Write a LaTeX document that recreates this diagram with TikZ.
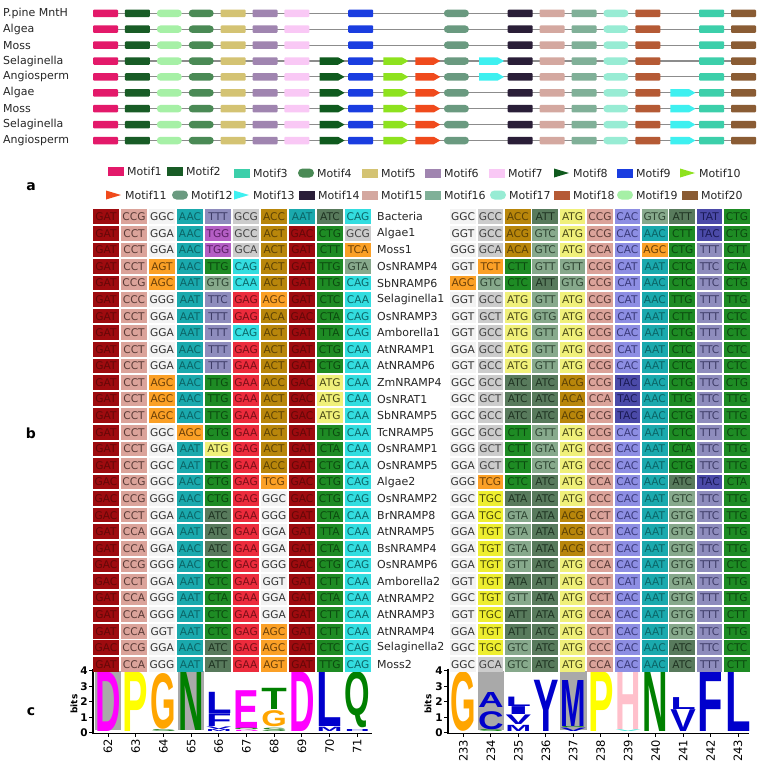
\documentclass[tikz,border=0pt]{standalone}
\usepackage{fontspec}
\usepackage{graphicx}
\setmainfont{DejaVu Sans}
\newfontfamily\logofont{Liberation Sans}
\usetikzlibrary{shapes.symbols}

% ---------- genetic code ----------
\newcommand\setaa[2]{\foreach \cc in {#2}{\expandafter\xdef\csname aa\cc\endcsname{#1}}}
\setaa{F}{TTT,TTC}
\setaa{L}{TTA,TTG,CTT,CTC,CTA,CTG}
\setaa{I}{ATT,ATC,ATA}
\setaa{M}{ATG}
\setaa{V}{GTT,GTC,GTA,GTG}
\setaa{S}{TCT,TCC,TCA,TCG,AGT,AGC}
\setaa{P}{CCT,CCC,CCA,CCG}
\setaa{T}{ACT,ACC,ACA,ACG}
\setaa{A}{GCT,GCC,GCA,GCG}
\setaa{Y}{TAT,TAC}
\setaa{H}{CAT,CAC}
\setaa{Q}{CAA,CAG}
\setaa{N}{AAT,AAC}
\setaa{K}{AAA,AAG}
\setaa{D}{GAT,GAC}
\setaa{E}{GAA,GAG}
\setaa{C}{TGT,TGC}
\setaa{W}{TGG}
\setaa{R}{CGT,CGC,CGA,CGG,AGA,AGG}
\setaa{G}{GGT,GGC,GGA,GGG}

% cell fills / text colours
\definecolor{fD}{HTML}{9E0B0F}\definecolor{tD}{HTML}{650808}
\definecolor{fP}{HTML}{DBA39A}\definecolor{tP}{HTML}{5A3A36}
\definecolor{fG}{HTML}{F3F3F3}\definecolor{tG}{HTML}{333333}
\definecolor{fN}{HTML}{1AA9AD}\definecolor{tN}{HTML}{0B6466}
\definecolor{fF}{HTML}{8E8CBD}\definecolor{tF}{HTML}{3D3B66}
\definecolor{fW}{HTML}{B45EC4}\definecolor{tW}{HTML}{5C1F66}
\definecolor{fA}{HTML}{CCCCCC}\definecolor{tA}{HTML}{444444}
\definecolor{fT}{HTML}{B8860B}\definecolor{tT}{HTML}{5C4205}
\definecolor{fI}{HTML}{587A5C}\definecolor{tI}{HTML}{1F3322}
\definecolor{fV}{HTML}{87A98C}\definecolor{tV}{HTML}{2F4533}
\definecolor{fQ}{HTML}{33DDE0}\definecolor{tQ}{HTML}{0C6668}
\definecolor{fS}{HTML}{FBA026}\definecolor{tS}{HTML}{6B4008}
\definecolor{fL}{HTML}{1E8B24}\definecolor{tL}{HTML}{0B4A0F}
\definecolor{fE}{HTML}{EC2B3C}\definecolor{tE}{HTML}{7A0F18}
\definecolor{fM}{HTML}{F0F07A}\definecolor{tM}{HTML}{4A4A18}
\definecolor{fC}{HTML}{EEEE30}\definecolor{tC}{HTML}{4A4A0A}
\definecolor{fH}{HTML}{8D8EE3}\definecolor{tH}{HTML}{3A3A7A}
\definecolor{fY}{HTML}{4B4AA8}\definecolor{tY}{HTML}{1A1A55}
\definecolor{fK}{HTML}{8888FF}\definecolor{tK}{HTML}{333366}
\definecolor{fR}{HTML}{8888FF}\definecolor{tR}{HTML}{333366}

% motif colours
\definecolor{mc1}{HTML}{E3196A}
\definecolor{mc2}{HTML}{185C26}
\definecolor{mc3}{HTML}{3CCFAA}
\definecolor{mc4}{HTML}{4A8A55}
\definecolor{mc5}{HTML}{D4C373}
\definecolor{mc6}{HTML}{A085B0}
\definecolor{mc7}{HTML}{F9C8F5}
\definecolor{mc8}{HTML}{0F5A1E}
\definecolor{mc9}{HTML}{1A3DE0}
\definecolor{mc10}{HTML}{8EE21E}
\definecolor{mc11}{HTML}{F04A1C}
\definecolor{mc12}{HTML}{6A9A80}
\definecolor{mc13}{HTML}{3EF0F0}
\definecolor{mc14}{HTML}{2A1E38}
\definecolor{mc15}{HTML}{D4A8A0}
\definecolor{mc16}{HTML}{80B098}
\definecolor{mc17}{HTML}{98ECD4}
\definecolor{mc18}{HTML}{B55A35}
\definecolor{mc19}{HTML}{A6F0A6}
\definecolor{mc20}{HTML}{8A5C34}

% logo colours
\definecolor{lgMag}{HTML}{FF00FF}
\definecolor{lgYel}{HTML}{FFFF00}
\definecolor{lgOra}{HTML}{FFA500}
\definecolor{lgGre}{HTML}{008000}
\definecolor{lgBlu}{HTML}{0000CC}
\definecolor{lgPin}{HTML}{FFC0CB}
\definecolor{lgCya}{HTML}{40E0D0}
\definecolor{lgBg}{HTML}{A9A9A9}

\tikzset{
  cell/.style={rectangle,inner sep=0,minimum width=25.5pt,minimum height=14.6pt,font=\fontsize{10.6}{12}\selectfont},
  seqname/.style={anchor=west,inner sep=0,font=\fontsize{11}{13}\selectfont,text=black!85},
  mbase/.style={inner sep=0,outer sep=0,minimum width=25pt,minimum height=7.5pt,draw=none},
  mrect/.style={mbase,rectangle,rounded corners=1pt},
  mpill/.style={mbase,rectangle,rounded corners=3.7pt},
  marrow/.style={mbase,signal,signal to=east,signal pointer angle=60},
  gline/.style={draw=black!45,line width=1.1pt},
  legrect/.style={rectangle,inner sep=0,minimum width=16pt,minimum height=9pt},
  legpill/.style={rectangle,inner sep=0,minimum width=16pt,minimum height=9pt,rounded corners=4.5pt},
  legtext/.style={anchor=west,inner sep=0,font=\fontsize{11}{13}\selectfont,text=black!85},
  panel/.style={font=\bfseries\fontsize{14}{16}\selectfont,inner sep=0},
  axisline/.style={line width=1.5pt,black},
  ticklab/.style={font=\bfseries\fontsize{10.5}{12}\selectfont,inner sep=0,anchor=east},
  collab/.style={font=\fontsize{11.5}{13}\selectfont,inner sep=0,anchor=east,rotate=90},
  bitslab/.style={font=\bfseries\fontsize{9}{10}\selectfont,inner sep=0,rotate=90},
  mot1/.style={mrect,fill=mc1}, mot2/.style={mrect,fill=mc2}, mot3/.style={mrect,fill=mc3},
  mot4/.style={mpill,fill=mc4}, mot5/.style={mrect,fill=mc5}, mot6/.style={mrect,fill=mc6},
  mot7/.style={mrect,fill=mc7}, mot8/.style={marrow,fill=mc8}, mot9/.style={mrect,fill=mc9},
  mot10/.style={marrow,fill=mc10}, mot11/.style={marrow,fill=mc11}, mot12/.style={mpill,fill=mc12},
  mot13/.style={marrow,fill=mc13}, mot14/.style={mrect,fill=mc14}, mot15/.style={mrect,fill=mc15},
  mot16/.style={mrect,fill=mc16}, mot17/.style={mpill,fill=mc17}, mot18/.style={mrect,fill=mc18},
  mot19/.style={mpill,fill=mc19}, mot20/.style={mrect,fill=mc20}
}

% top panel row
\newcommand\mrow[3]{%
  \pgfmathsetmacro\ym{13.3+15.9*#1}%
  \node[seqname] (T#1) at (3,\ym) {#2};
  \coordinate (ls#1) at (93,\ym);
  \coordinate (le#1) at (756,\ym);
  \draw[gline] (ls#1) -- (le#1);
  \foreach \s/\m in {#3}{\node[mot\m] (M#1-\s) at ({105.5+31.9*\s},\ym) {};}
}

% legend icons
\newcommand\legiconr[3]{\node[legrect,fill=mc#3] (icon#3) at ({#1+8},#2) {};}
\newcommand\legiconp[3]{\node[legpill,fill=mc#3] (icon#3) at ({#1+8},#2) {};}
\newcommand\legicont[3]{\fill[fill=mc#3] (#1,{#2-4.5}) -- ({#1+15},#2) -- (#1,{#2+4.5}) -- cycle;
  \coordinate (icon#3) at ({#1+7},#2);}

% alignment row
\newcommand\alrow[4]{%
  \pgfmathsetmacro\yc{216.7+16.58*#1}%
  \foreach \cod [count=\ci from 0] in {#2}{%
    \edef\myaa{\csname aa\cod\endcsname}%
    \node[cell,fill=f\myaa,text=t\myaa] (L#1-\ci) at ({106+28*\ci},\yc) {\cod};
  }
  \node[seqname] (N#1) at (377,\yc) {#3};
  \foreach \cod [count=\ci from 0] in {#4}{%
    \edef\myaa{\csname aa\cod\endcsname}%
    \node[cell,fill=f\myaa,text=t\myaa] (R#1-\ci) at ({463+27.4*\ci},\yc) {\cod};
  }
}

% logo letter (small gap between stacked letters)
\newcounter{lgc}
\newcommand\lgl[5]{%
  \stepcounter{lgc}%
  \pgfmathsetmacro\lgh{max(15.5*(#3-#2)-0.5,0.5)}%
  \pgfmathsetmacro\lgy{732.7-15.5*(#2)-0.25}%
  \node[inner sep=0,outer sep=0,anchor=south,text=#5] (lg\arabic{lgc}) at (#1,\lgy)
     {\resizebox*{25.5pt}{\lgh pt}{\logofont\bfseries #4}};%
}

\begin{document}
\begin{tikzpicture}[x=1pt,y=-1pt]
\fill[white] (0,0) rectangle (760,771);
\useasboundingbox (0,0) rectangle (760,771);

% ---------------- panel a : motifs ----------------
\mrow{0}{P.pine MntH}{0/1,1/2,2/19,3/4,4/5,5/6,6/7,8/9,11/12,13/14,14/15,15/16,16/17,17/18,19/3,20/20}
\mrow{1}{Algea}{0/1,1/2,2/19,3/4,4/5,5/6,6/7,8/9,11/12,13/14,14/15,15/16,16/17,17/18,19/3,20/20}
\mrow{2}{Moss}{0/1,1/2,2/19,3/4,4/5,5/6,6/7,8/9,11/12,13/14,14/15,15/16,16/17,17/18,19/3,20/20}
\mrow{3}{Selaginella}{0/1,1/2,2/19,3/4,4/5,5/6,6/7,7/8,8/9,9/10,10/11,11/12,12/13,13/14,14/15,15/16,16/17,17/18,19/3,20/20}
\mrow{4}{Angiosperm}{0/1,1/2,2/19,3/4,4/5,5/6,6/7,7/8,8/9,9/10,10/11,11/12,12/13,13/14,14/15,15/16,16/17,17/18,19/3,20/20}
\mrow{5}{Algae}{0/1,1/2,2/19,3/4,4/5,5/6,6/7,7/8,8/9,9/10,10/11,11/12,13/14,14/15,15/16,16/17,17/18,18/13,19/3,20/20}
\mrow{6}{Moss}{0/1,1/2,2/19,3/4,4/5,5/6,6/7,7/8,8/9,9/10,10/11,11/12,13/14,14/15,15/16,16/17,17/18,18/13,19/3,20/20}
\mrow{7}{Selaginella}{0/1,1/2,2/19,3/4,4/5,5/6,6/7,7/8,8/9,9/10,10/11,11/12,13/14,14/15,15/16,16/17,17/18,18/13,19/3,20/20}
\mrow{8}{Angiosperm}{0/1,1/2,2/19,3/4,4/5,5/6,6/7,7/8,8/9,9/10,10/11,11/12,13/14,14/15,15/16,16/17,17/18,18/13,19/3,20/20}

% legend
\foreach \m/\lx/\ly/\k in {1/108/171/r,2/167/171/r,3/234/173/r,4/298/173/p,5/362/173/r,6/425/173/r,7/489/173/r,8/554/173/t,9/617/173/r,10/680/173/t,
  11/106/195/t,12/172/195/p,13/234/195/t,14/299/195/r,15/362/195/r,16/425/195/r,17/490/195/p,18/554/195/r,19/617/195/p,20/682/195/r}{
  \csname legicon\k\endcsname{\lx}{\ly}{\m}
  \node[legtext] (legt\m) at ({\lx+19},\ly) {Motif\m};
}

\node[panel] (pa) at (31,187) {a};
\node[panel] (pb) at (31,433) {b};
\node[panel] (pc) at (31,712) {c};

% ---------------- panel c : logos ----------------
% grey backgrounds
\fill[lgBg] (95,730.4) rectangle (121,670.7);
\fill[lgBg] (178,730.4) rectangle (204,670.7);
\fill[lgBg] (477.5,730.4) rectangle (504,670.7);
\fill[lgBg] (560,730.4) rectangle (586.5,670.7);

% left logo letters
\lgl{108}{0.06}{3.93}{D}{lgMag}
\lgl{135.7}{0.06}{3.93}{P}{lgYel}
\lgl{163.4}{0.2}{3.83}{G}{lgOra}
\lgl{163.4}{0.04}{0.2}{S}{lgGre!70!gray}
\lgl{191.1}{0.15}{3.93}{N}{lgGre}
\lgl{218.8}{1.25}{2.65}{L}{lgBlu}
\lgl{218.8}{0.4}{1.25}{F}{lgBlu}
\lgl{218.8}{0.2}{0.4}{V}{lgBlu}
\lgl{218.8}{0.04}{0.2}{M}{lgBlu}
\lgl{246.5}{0.28}{2.75}{E}{lgMag}
\lgl{246.5}{0.14}{0.28}{Q}{lgGre}
\lgl{246.5}{0.03}{0.14}{D}{lgMag}
\lgl{274.2}{1.46}{2.86}{T}{lgGre}
\lgl{274.2}{0.39}{1.46}{G}{lgOra}
\lgl{274.2}{0.05}{0.3}{S}{lgGre!70!gray}
\lgl{301.9}{0.06}{3.93}{D}{lgMag}
\lgl{329.6}{0.39}{3.93}{L}{lgBlu}
\lgl{329.6}{0.04}{0.35}{M}{lgBlu}
\lgl{357.3}{0.28}{3.93}{Q}{lgGre}
\lgl{357.3}{0.04}{0.2}{H}{lgBlu}

% right logo letters
\lgl{463.5}{0.06}{3.93}{G}{lgOra}
\lgl{490.95}{1.6}{2.6}{A}{lgBlu}
\lgl{490.95}{0.2}{1.4}{C}{lgBlu}
\lgl{490.95}{0.05}{0.2}{S}{lgGre}
\lgl{518.4}{1.68}{2.32}{L}{lgBlu}
\lgl{518.4}{1.14}{1.68}{I}{lgBlu}
\lgl{518.4}{0.49}{1.14}{V}{lgBlu}
\lgl{518.4}{0.06}{0.49}{M}{lgBlu}
\lgl{545.85}{0.06}{3.4}{Y}{lgBlu}
\lgl{573.3}{0.4}{3.4}{M}{lgBlu}
\lgl{573.3}{0.3}{0.4}{G}{lgGre}
\lgl{573.3}{0.05}{0.3}{V}{lgBlu}
\lgl{600.75}{0.06}{3.93}{P}{lgYel}
\lgl{628.2}{0.17}{3.93}{H}{lgPin}
\lgl{628.2}{0.03}{0.17}{V}{lgCya}
\lgl{655.65}{0.06}{3.93}{N}{lgGre}
\lgl{683.1}{1.5}{2.3}{L}{lgBlu}
\lgl{683.1}{0.06}{1.5}{V}{lgBlu}
\lgl{710.55}{0.06}{3.93}{F}{lgBlu}
\lgl{738}{0.06}{3.93}{L}{lgBlu}

% axes
\coordinate (la0) at (93,668.5);
\coordinate (la1) at (93,733.5);
\coordinate (la2) at (372,733.5);
\draw[axisline] (la0) -- (la1) -- (la2);
\coordinate (ra0) at (448,668.5);
\coordinate (ra1) at (448,733.5);
\coordinate (ra2) at (749,733.5);
\draw[axisline] (ra0) -- (ra1) -- (ra2);
\foreach \b in {0,...,4}{
  \draw[line width=1pt] (93,{732.7-15.5*\b}) -- (89,{732.7-15.5*\b});
  \node[ticklab] (ltl\b) at (88,{732.7-15.5*\b}) {\b};
  \draw[line width=1pt] (448,{732.7-15.5*\b}) -- (444,{732.7-15.5*\b});
  \node[ticklab] (rtl\b) at (443,{732.7-15.5*\b}) {\b};
}
\node[bitslab] (lbits) at (74,704) {bits};
\node[bitslab] (rbits) at (428,704) {bits};
\foreach \n [count=\ci from 0] in {62,63,64,65,66,67,68,69,70,71}{
  \draw[line width=1pt] ({108+27.7*\ci},733.5) -- ({108+27.7*\ci},737);
  \node[collab] (lc\n) at ({108+27.7*\ci},738.5) {\n};
}
\foreach \n [count=\ci from 0] in {233,234,235,236,237,238,239,240,241,242,243}{
  \draw[line width=1pt] ({463.5+27.45*\ci},733.5) -- ({463.5+27.45*\ci},737);
  \node[collab] (rc\n) at ({463.5+27.45*\ci},739.5) {\n};
}

% ---------------- panel b : alignment ----------------
\alrow{0}{GAT,CCG,GGC,AAC,TTT,GCG,ACC,AAT,ATC,CAG}{Bacteria}{GGC,GCC,ACC,ATT,ATG,CCG,CAC,GTG,ATT,TAT,CTG}
\alrow{1}{GAT,CCT,GGA,AAC,TGG,GCC,ACT,GAC,CTG,GCG}{Algae1}{GGT,GCC,ACG,GTC,ATG,CCG,CAC,AAC,CTT,TAC,CTG}
\alrow{2}{GAT,CCT,GGA,AAC,TGG,GCA,ACT,GAT,CTT,TCA}{Moss1}{GGG,GCA,ACA,GTC,ATG,CCA,CAC,AGC,CTG,TTT,CTT}
\alrow{3}{GAT,CCT,AGT,AAC,TTG,CAG,ACT,GAT,TTG,GTA}{OsNRAMP4}{GGT,TCT,CTT,GTT,GTT,CCG,CAT,AAT,CTC,TTC,CTA}
\alrow{4}{GAT,CCG,AGC,AAT,GTG,CAA,ACT,GAT,TTG,CAG}{SbNRAMP6}{AGC,GTC,CTC,ATT,GTG,CCG,CAT,AAC,CTC,TTC,CTG}
\alrow{5}{GAT,CCC,GGG,AAT,TTC,GAG,AGC,GAT,CTC,CAA}{Selaginella1}{GGT,GCC,ATG,GTT,ATG,CCG,CAT,AAC,TTG,TTT,TTG}
\alrow{6}{GAT,CCT,GGA,AAT,TTT,GAG,ACA,GAC,CTA,CAG}{OsNRAMP3}{GGT,GCT,ATG,GTG,ATG,CCG,CAT,AAT,CTT,TTT,CTC}
\alrow{7}{GAT,CCT,GGA,AAT,TTT,CAG,ACT,GAT,TTA,CAG}{Amborella1}{GGT,GCC,ATG,GTT,ATG,CCG,CAC,AAT,CTG,TTT,CTC}
\alrow{8}{GAT,CCT,GGA,AAC,TTT,GAG,ACT,GAT,CTG,CAA}{AtNRAMP1}{GGA,GCC,ATG,GTT,ATG,CCG,CAT,AAT,CTC,TTC,CTC}
\alrow{9}{GAT,CCT,GGA,AAC,TTT,GAA,ACT,GAT,CTG,CAA}{AtNRAMP6}{GGT,GCC,ATG,GTT,ATG,CCG,CAC,AAT,CTC,TTT,CTC}
\alrow{10}{GAT,CCT,AGC,AAC,TTG,GAA,ACC,GAC,ATG,CAA}{ZmNRAMP4}{GGC,GCC,ATC,ATC,ACG,CCG,TAC,AAC,CTG,TTC,CTG}
\alrow{11}{GAT,CCT,AGC,AAC,TTG,GAA,ACT,GAC,ATG,CAA}{OsNRAT1}{GGC,GCT,ATC,ATC,ACA,CCA,TAC,AAC,TTG,TTC,TTG}
\alrow{12}{GAT,CCT,AGC,AAC,TTG,GAA,ACT,GAC,ATG,CAA}{SbNRAMP5}{GGC,GCC,ATC,ATC,ACG,CCG,TAC,AAC,CTG,TTC,TTG}
\alrow{13}{GAT,CCT,GGC,AGC,CTG,GAA,ACT,GAT,TTG,CAA}{TcNRAMP5}{GGC,GCC,CTT,GTT,ATG,CCG,CAC,AAT,CTC,TTT,CTC}
\alrow{14}{GAT,CCT,GGA,AAT,ATG,GAG,ACT,GAT,CTA,CAA}{OsNRAMP1}{GGG,GCT,CTT,GTA,ATG,CCG,CAC,AAT,CTA,TTC,TTG}
\alrow{15}{GAT,CCT,GGC,AAT,TTG,GAA,ACC,GAT,CTG,CAA}{OsNRAMP5}{GGA,GCT,CTT,GTC,ATG,CCC,CAC,AAT,CTG,TTC,TTG}
\alrow{16}{GAC,CCG,GGC,AAC,CTG,GAG,TCG,GAC,CTG,CAG}{Algae2}{GGG,TCG,CTC,ATC,ATG,CCA,CAC,AAC,ATC,TAC,CTA}
\alrow{17}{GAC,CCG,GGG,AAC,CTG,GAG,GGC,GAC,CTG,CAG}{OsNRAMP2}{GGC,TGC,ATA,ATC,ATG,CCC,CAC,AAT,GTC,TTC,TTG}
\alrow{18}{GAC,CCT,GGA,AAC,ATC,GAA,GGG,GAT,CTA,CAA}{BrNRAMP8}{GGA,TGC,GTA,ATA,ACG,CCT,CAC,AAT,GTG,TTC,TTG}
\alrow{19}{GAT,CCA,GGA,AAT,ATC,GAA,GGA,GAT,TTA,CAA}{AtNRAMP5}{GGA,TGT,GTA,ATA,ACG,CCT,CAC,AAT,GTG,TTC,TTG}
\alrow{20}{GAT,CCA,GGA,AAC,ATC,GAA,GGA,GAT,CTA,CAA}{BsNRAMP4}{GGA,TGT,GTA,ATA,ACG,CCT,CAC,AAT,GTG,TTC,TTG}
\alrow{21}{GAC,CCG,GGG,AAC,CTC,GAG,GGG,GAC,CTG,CAG}{OsNRAMP6}{GGA,TGT,GTT,ATC,ATG,CCA,CAC,AAT,GTG,TTT,CTC}
\alrow{22}{GAC,CCT,GGA,AAT,CTC,GAA,GGT,GAT,CTT,CAA}{Amborella2}{GGT,TGT,ATA,ATT,ATG,CCT,CAT,AAT,GTA,TTC,TTG}
\alrow{23}{GAT,CCA,GGG,AAT,CTA,GAA,GGA,GAT,CTA,CAA}{AtNRAMP2}{GGC,TGT,GTT,ATA,ATG,CCT,CAC,AAT,GTG,TTT,TTG}
\alrow{24}{GAT,CCA,GGG,AAT,CTC,GAA,GGA,GAT,CTT,CAA}{AtNRAMP3}{GGT,TGC,ATT,ATA,ATG,CCA,CAC,AAT,GTG,TTT,CTT}
\alrow{25}{GAT,CCA,GGT,AAT,CTC,GAG,AGC,GAT,CTT,CAA}{AtNRAMP4}{GGA,TGT,ATT,ATC,ATG,CCT,CAC,AAT,GTG,TTC,TTG}
\alrow{26}{GAC,CCG,GGA,AAC,ATC,GAG,AGC,GAT,CTC,CAG}{Selaginella2}{GGC,TGC,GTC,ATC,ATG,CCC,CAC,AAC,ATC,TTC,CTC}
\alrow{27}{GAT,CCA,GGG,AAT,ATT,GAA,AGT,GAT,TTG,CAG}{Moss2}{GGC,GCA,GTC,ATC,ATG,CCA,CAC,AAC,ATC,TTT,CTT}
\end{tikzpicture}
\end{document}
